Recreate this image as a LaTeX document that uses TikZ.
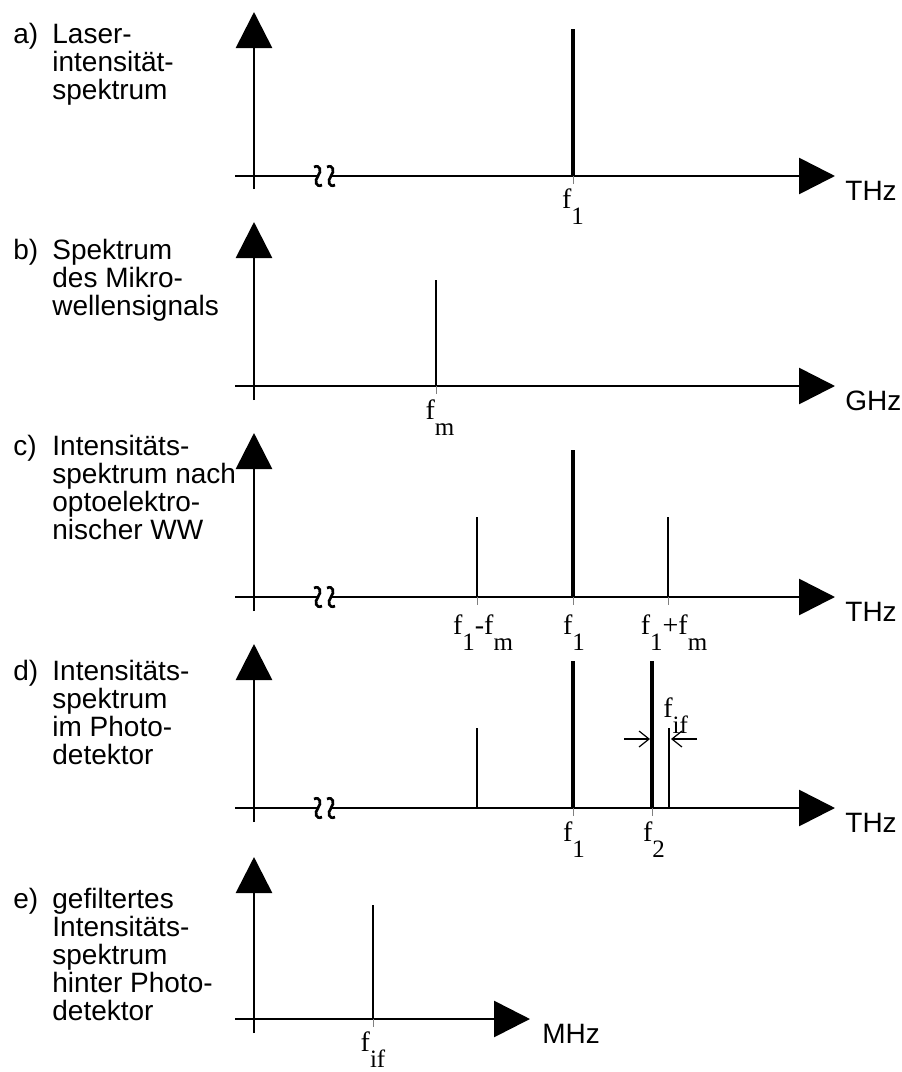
\documentclass[tikz,border=0pt]{standalone}
\usepackage{fontspec}
\setmainfont{Liberation Sans}
\newfontfamily\timesfont{Liberation Serif}
\usetikzlibrary{arrows.meta}

\newcommand{\fq}[1]{f\raisebox{-8pt}{\fontsize{12.5}{12.5}\selectfont #1}}

\begin{document}
\begin{tikzpicture}[
  x=0.5pt, y=-0.5pt,
  font=\fontsize{14}{14}\selectfont,
  bigtip/.style={-{Triangle[length=18pt, width=18pt]}},
  axisline/.style={line width=1.35pt},
  xaxis/.style={axisline, bigtip},
  yaxis/.style={axisline, bigtip},
  peak/.style={line width=1.1pt},
  bigpeak/.style={line width=2.3pt},
  tick/.style={line width=0.5pt, gray},
  gaparrow/.style={line width=0.6pt, -{Straight Barb[length=5pt, width=8pt]}},
  panel/.style={anchor=base west, inner sep=0pt},
  caption/.style={anchor=base west, inner sep=0pt, align=left},
  unit/.style={anchor=base west, inner sep=0pt},
  flabel/.style={anchor=base, inner sep=0pt, font=\timesfont\fontsize{14}{14}\selectfont},
  brk/.pic={
    \draw[axisline] (-10.5,-9) .. controls (-4.5,-12) and (-2.5,-5) .. (-6.5,0)
      .. controls (-10.5,5) and (-8.5,12) .. (-2.5,9);
    \draw[axisline] (2.5,-9) .. controls (8.5,-12) and (10.5,-5) .. (6.5,0)
      .. controls (2.5,5) and (4.5,12) .. (10.5,9);
  }
]
\useasboundingbox (0,0) rectangle (901,1072);

% a) laser spectrum (caption anchored on its last line)
\node[panel] (lblA) at (13,43) {a)};
\node[caption] (txtA) at (52,99) {Laser-\\intensität-\\spektrum};
\draw[yaxis] (254,189) -- (254,12);
\draw[axisline] (235,176) -- (318,176);
\draw[xaxis] (331,176) -- (835,176);
\pic at (324.5,176) {brk};
\draw[bigpeak] (573,29) -- (573,176);
\draw[tick] (573,176) -- (573,184);
\node[flabel] (fA) at (573,208) {\fq{1}};
\node[unit] (unitA) at (845,200) {THz};

% b) microwave signal
\node[panel] (lblB) at (13,259) {b)};
\node[caption] (txtB) at (52,315) {Spektrum\\des Mikro-\\wellensignals};
\draw[yaxis] (254,400) -- (254,222);
\draw[xaxis] (235,386) -- (835,386);
\draw[peak] (436,280) -- (436,386);
\draw[tick] (436,386) -- (436,394);
\node[flabel] (fB) at (440,419) {\fq{m}};
\node[unit] (unitB) at (845,410) {GHz};

% c) after optoelectronic interaction
\node[panel] (lblC) at (13,455) {c)};
\node[caption] (txtC) at (52,539) {Intensitäts-\\spektrum nach\\optoelektro-\\nischer WW};
\draw[yaxis] (254,611) -- (254,433);
\draw[axisline] (235,597) -- (318,597);
\draw[xaxis] (331,597) -- (835,597);
\pic at (324.5,597) {brk};
\draw[peak] (477,517) -- (477,597);
\draw[bigpeak] (573,450) -- (573,597);
\draw[peak] (668,517) -- (668,597);
\draw[tick] (477,597) -- (477,605);
\draw[tick] (573,597) -- (573,605);
\draw[tick] (668,597) -- (668,605);
\node[flabel] (fC1) at (483,634) {\fq{1}-\fq{m}};
\node[flabel] (fC2) at (574,634) {\fq{1}};
\node[flabel] (fC3) at (674,634) {\fq{1}+\fq{m}};
\node[unit] (unitC) at (845,621) {THz};

% d) in the photodetector
\node[panel] (lblD) at (13,680) {d)};
\node[caption] (txtD) at (52,764) {Intensitäts-\\spektrum\\im Photo-\\detektor};
\draw[yaxis] (254,822) -- (254,644);
\draw[axisline] (235,808) -- (318,808);
\draw[xaxis] (331,808) -- (835,808);
\pic at (324.5,808) {brk};
\draw[peak] (477,728) -- (477,808);
\draw[bigpeak] (573,661) -- (573,808);
\draw[bigpeak] (652,661) -- (652,808);
\draw[peak] (669,728) -- (669,808);
\draw[tick] (573,808) -- (573,816);
\draw[tick] (652,808) -- (652,816);
\draw[gaparrow] (624,739) -- (650,739);
\draw[gaparrow] (697,739) -- (671,739);
\node[flabel, anchor=base west] (fif) at (663,717) {\fq{if}};
\node[flabel] (fD1) at (574,841) {\fq{1}};
\node[flabel] (fD2) at (654,841) {\fq{2}};
\node[unit] (unitD) at (845,832) {THz};

% e) filtered spectrum
\node[panel] (lblE) at (13,908) {e)};
\node[caption] (txtE) at (52,1020) {gefiltertes\\Intensitäts-\\spektrum\\hinter Photo-\\detektor};
\draw[yaxis] (254,1033) -- (254,857);
\draw[xaxis] (235,1019) -- (530,1019);
\draw[peak] (373,905) -- (373,1019);
\draw[tick] (373,1019) -- (373,1027);
\node[flabel] (fE) at (373,1051) {\fq{if}};
\node[unit] (unitE) at (542,1043) {MHz};

\end{tikzpicture}
\end{document}
